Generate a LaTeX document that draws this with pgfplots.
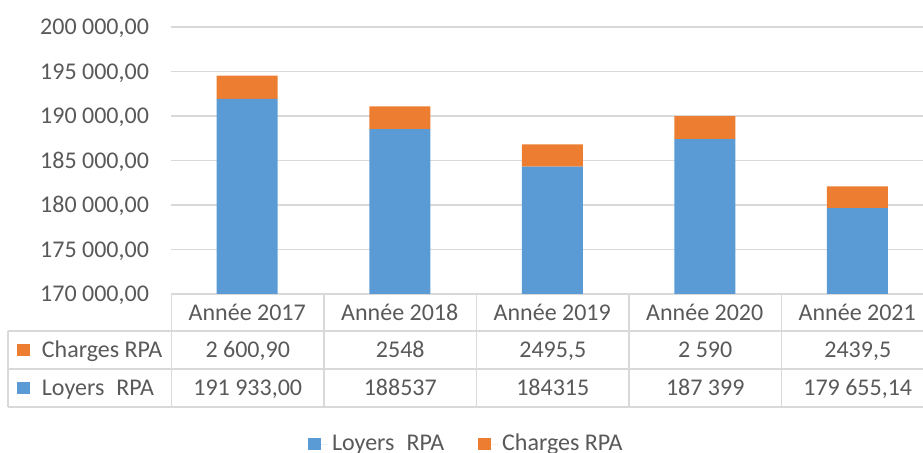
\documentclass[border=0pt]{standalone}
\usepackage{fontspec}
\setmainfont{Carlito}
\usepackage{pgfplots}
\pgfplotsset{compat=1.18}
\definecolor{cblue}{HTML}{5B9BD5}
\definecolor{corange}{HTML}{ED7D31}
\definecolor{ctext}{HTML}{595959}
\definecolor{cgrid}{HTML}{D9D9D9}
\tikzset{tcell/.style={text=ctext, text height=7.6pt, text depth=0pt, inner ysep=0pt}}
\begin{document}
\begin{tikzpicture}[font=\fontsize{12}{14.4}\selectfont]
\path[use as bounding box] (0,0) rectangle (461.5pt,-226.5pt);
\begin{axis}[
  at={(85.5pt,-147pt)}, anchor=south west,
  scale only axis, width=376pt, height=133.5pt,
  xmin=-0.5, xmax=4.4311, ymin=170000, ymax=200000,
  scaled y ticks=false,
  ybar stacked, bar width=30.5pt,
  axis line style={draw=none},
  ymajorgrids, grid style={cgrid, line width=0.75pt},
  ytick={170000,175000,180000,185000,190000,195000,200000},
  yticklabels={{170 000,00},{175 000,00},{180 000,00},{185 000,00},{190 000,00},{195 000,00},{200 000,00}},
  xtick={0,1,2,3,4},
  xticklabels={Année 2017,Année 2018,Année 2019,Année 2020,Année 2021},
  major tick length=0,
  tick label style={tcell, font=\fontsize{12}{14.4}\selectfont},
  xticklabel style={anchor=center, yshift=-9.25pt},
  yticklabel style={anchor=east, xshift=-7.5pt},
  legend style={at={(axis description cs:0.394,-0.562)}, anchor=center, draw=none,
    text=ctext, font=\fontsize{12}{14.4}\selectfont,
    /tikz/every even column/.append style={column sep=15pt}},
  legend columns=2,
  legend image code/.code={\fill[#1] (0pt,-3.1pt) rectangle (6.2pt,3.1pt); \path (6.2pt,0)--(10pt,0);},
]
\addplot[fill=cblue, draw=none] coordinates {(0,191933) (1,188537) (2,184315) (3,187399) (4,179655.14)};
\addplot[fill=corange, draw=none] coordinates {(0,2600.9) (1,2548) (2,2495.5) (3,2590) (4,2439.5)};
\legend{Loyers\hspace{6pt}RPA, Charges RPA}
\end{axis}
\begin{scope}[x=0.5pt,y=-0.5pt]
\draw[cgrid, line width=0.75pt] (8,331)--(923,331) (8,369)--(923,369) (8,407)--(923,407);
\draw[cgrid, line width=0.75pt] (8,331)--(8,407);
\foreach \xx in {171.5,324,476.5,629,781.5} {\draw[cgrid, line width=0.75pt] (\xx,294)--(\xx,407);}
\fill[corange] (17,344) rectangle (29.5,356.5);
\fill[cblue] (17,382) rectangle (29.5,394.5);
\node[tcell, anchor=west, inner xsep=0pt] at (41.5,350) {Charges RPA};
\node[tcell, anchor=west, inner xsep=0pt] at (41.5,388) {Loyers\hspace{6pt}RPA};
\foreach \xx/\v in {247.75/{2 600,90},400.25/2548,552.75/{2495,5},705.25/{2 590},857.75/{2439,5}}
  {\node[tcell] at (\xx,350) {\v};}
\foreach \xx/\v in {247.75/{191 933,00},400.25/188537,552.75/184315,705.25/{187 399},857.75/{179 655,14}}
  {\node[tcell] at (\xx,388) {\v};}
\end{scope}
\end{tikzpicture}
\end{document}
